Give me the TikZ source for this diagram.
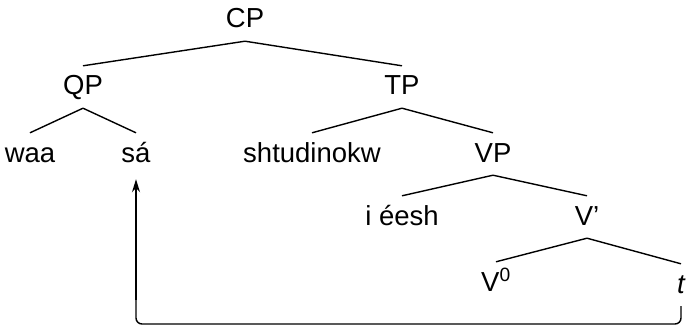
\documentclass[tikz,border=0pt]{standalone}
\usepackage{fontspec}
\setmainfont{Liberation Sans}
\usetikzlibrary{arrows.meta}

\begin{document}
\begin{tikzpicture}[
x=1pt, y=-1pt,
cat/.style={anchor=base, inner xsep=0pt, inner ysep=7pt, text height=22pt, text depth=6pt,
font=\fontsize{27.5}{32}\selectfont},
branch/.style={draw, line width=1.4pt},
move/.style={draw, line width=1.4pt, rounded corners=6pt},
move-tip/.style={draw, line width=1.4pt, -{Stealth[length=13pt, width=8pt, inset=4pt]}}
]
\useasboundingbox (0,0) rectangle (688,329);

% categories, placed by baseline
\node [cat] (cp) at (245,28) {CP};
\node [cat] (qp) at (83,95) {QP};
\node [cat] (tp) at (402,95) {TP};
\node [cat] (waa) at (30,162) {waa};
\node [cat] (sa) at (136,162) {sá};
\node [cat] (shtud) at (312,162) {shtudinokw};
\node [cat] (vp) at (493,162) {VP};
\node [cat] (ieesh) at (402,225) {i éesh};
\node [cat] (vbar) at (587,225) {V’};
\node [cat] (v0) at (496,291) {V\textsuperscript{0}};
\node [cat] (t) at (681,293) {\itshape t};

\path [branch] (cp.south) -- (qp.north);
\path [branch] (cp.south) -- (tp.north);
\path [branch] (qp.south) -- (waa.north);
\path [branch] (qp.south) -- (sa.north);
\path [branch] (tp.south) -- (shtud.north);
\path [branch] (tp.south) -- (vp.north);
\path [branch] (vp.south) -- (ieesh.north);
\path [branch] (vp.south) -- (vbar.north);
\path [branch] (vbar.south) -- (v0.north);
\path [branch] (vbar.south) -- (t.north);

% trace t moved up to sá: rounded run along the bottom, then a straight rise
\coordinate (floor) at (400,324);
\coordinate (rise) at (136,300);
\path [move] (t.south) |- (floor) -| (rise);
\path [move-tip] (rise) -- ([yshift=-4pt]sa.south);

\end{tikzpicture}
\end{document}
